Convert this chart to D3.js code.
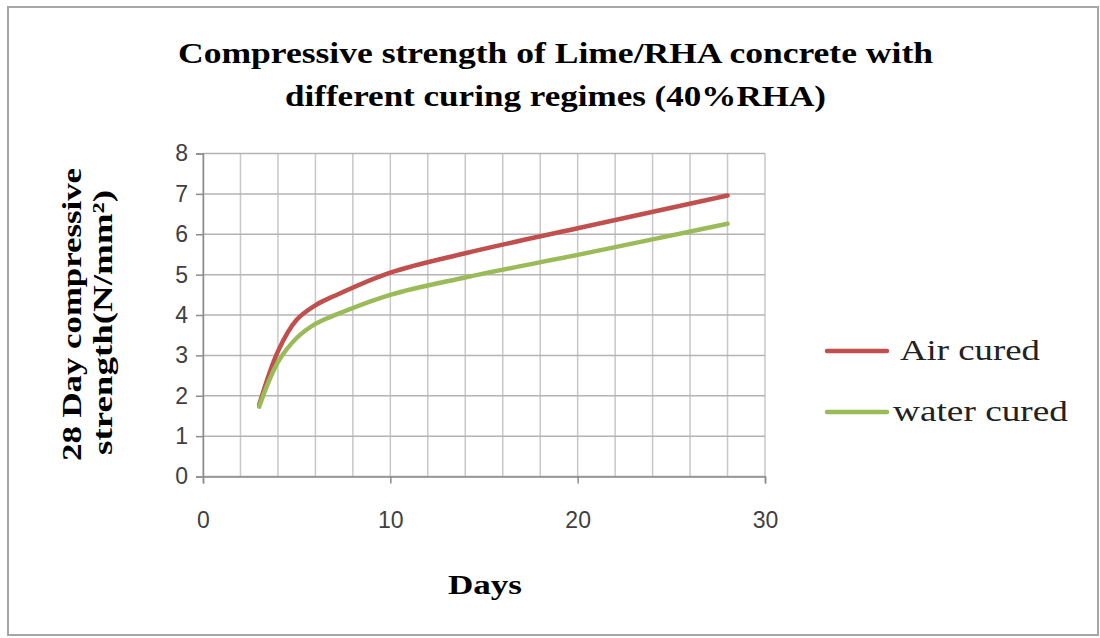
<!DOCTYPE html>
<html>
<head>
<meta charset="utf-8">
<script src="https://cdn.jsdelivr.net/npm/d3@7"></script>
<style>
  body { margin: 0; background: #fff; }
  svg { display: block; }
</style>
</head>
<body>
<script>
// values
var days = [3, 4, 5, 6, 7, 10, 14, 20, 28]
var airCured = [1.78, 3.1, 3.88, 4.24, 4.47, 5.05, 5.53, 6.15, 6.96]
var waterCured = [1.73, 2.83, 3.43, 3.78, 3.99, 4.5, 4.93, 5.49, 6.26]
var xTicks = [0, 10, 20, 30]
var yTicks = [0, 1, 2, 3, 4, 5, 6, 7, 8]
var seriesNames = ["Air cured", "water cured"]
var seriesColors = ["#C0504D", "#9BBB59"]

var width = 1100, height = 638

var svg = d3.select("body")
            .append("svg")
            .attr("width", width)
            .attr("height", height)

// outer frame
svg.append("rect")
    .attr("x", 8).attr("y", 7)
    .attr("width", 1090).attr("height", 628)
    .style("fill", "#fff")
    .style("stroke", "#a6a6a6")
    .style("stroke-width", 2)

var x = d3.scaleLinear().domain([0, 30]).range([203, 765])
var y = d3.scaleLinear().domain([0, 8]).range([476.5, 153.5])

// vertical minor grid every 2 days
svg.selectAll("line.vgrid")
    .data(d3.range(0, 31, 2))
    .enter()
    .append("line")
    .attr("class", "vgrid")
    .attr("x1", function(d){ return x(d) })
    .attr("x2", function(d){ return x(d) })
    .attr("y1", y(8))
    .attr("y2", y(0))
    .style("stroke", "#c8c8c8")
    .style("stroke-width", 1.5)

svg.selectAll("line.hgrid")
    .data(yTicks)
    .enter()
    .append("line")
    .attr("class", "hgrid")
    .attr("x1", x(0))
    .attr("x2", x(30))
    .attr("y1", function(d){ return y(d) })
    .attr("y2", function(d){ return y(d) })
    .style("stroke", "#b4b4b4")
    .style("stroke-width", 1.5)

// axes
var xAxis = svg.append("g")
    .attr("transform", "translate(0," + y(0) + ")")
    .call(d3.axisBottom(x).tickValues(xTicks).tickSize(7).tickPadding(28))
var yAxis = svg.append("g")
    .attr("transform", "translate(" + x(0) + ",0)")
    .call(d3.axisLeft(y).tickValues(yTicks).tickSize(7).tickPadding(8))

;[xAxis, yAxis].forEach(function(g){
  g.select(".domain").style("stroke", "#8c8c8c").style("stroke-width", 1.5)
  g.selectAll(".tick line").style("stroke", "#8c8c8c").style("stroke-width", 1.5)
  g.selectAll(".tick text")
    .style("font-family", "'Liberation Sans', Arial, sans-serif")
    .style("font-size", "23px")
    .style("fill", "#404040")
})

// lines
var line = d3.line()
    .x(function(d){ return x(d[0]) })
    .y(function(d){ return y(d[1]) })
    .curve(d3.curveCatmullRom)

var series = [airCured, waterCured]
series.forEach(function(vals, i){
  svg.append("path")
    .datum(days.map(function(d, j){ return [d, vals[j]] }))
    .attr("d", line)
    .style("fill", "none")
    .style("stroke", seriesColors[i])
    .style("stroke-width", 4.5)
    .style("stroke-linecap", "round")
})

var serif = "'Liberation Serif', 'Times New Roman', serif"

// title
var titleLines = [
  {t: "Compressive strength of Lime/RHA concrete with", y: 63, x0: 178, w: 755},
  {t: "different curing regimes (40%RHA)", y: 106, x0: 285, w: 541}
]
svg.selectAll("text.title")
    .data(titleLines)
    .enter()
    .append("text")
    .attr("class", "title")
    .attr("x", function(d){ return d.x0 })
    .attr("y", function(d){ return d.y })
    .attr("textLength", function(d){ return d.w })
    .attr("lengthAdjust", "spacingAndGlyphs")
    .style("font-family", serif)
    .style("font-weight", "bold")
    .style("font-size", "29px")
    .text(function(d){ return d.t })

// axis titles
svg.append("text")
    .attr("x", 448).attr("y", 594)
    .attr("textLength", 74)
    .attr("lengthAdjust", "spacingAndGlyphs")
    .style("font-family", serif)
    .style("font-weight", "bold")
    .style("font-size", "28px")
    .text("Days")

var yTitle = [
  {t: "28 Day compressive", x: 81, y0: 461, w: 293},
  {t: "strength(N/mm²)", x: 112, y0: 455, w: 265}
]
svg.selectAll("text.ytitle")
    .data(yTitle)
    .enter()
    .append("text")
    .attr("class", "ytitle")
    .attr("transform", function(d){ return "translate(" + d.x + "," + d.y0 + ") rotate(-90)" })
    .attr("textLength", function(d){ return d.w })
    .attr("lengthAdjust", "spacingAndGlyphs")
    .style("font-family", serif)
    .style("font-weight", "bold")
    .style("font-size", "28px")
    .text(function(d){ return d.t })

// legend
var legend = [
  {y: 351, tx: 900, w: 140},
  {y: 412, tx: 893, w: 175}
]
legend.forEach(function(l, i){
  svg.append("line")
    .attr("x1", 827).attr("x2", 887)
    .attr("y1", l.y).attr("y2", l.y)
    .style("stroke", seriesColors[i])
    .style("stroke-width", 4.5)
    .style("stroke-linecap", "round")
  svg.append("text")
    .attr("x", l.tx).attr("y", l.y + 9)
    .attr("textLength", l.w)
    .attr("lengthAdjust", "spacingAndGlyphs")
    .style("font-family", serif)
    .style("font-size", "29px")
    .style("fill", "#222")
    .text(seriesNames[i])
})
</script>
</body>
</html>
